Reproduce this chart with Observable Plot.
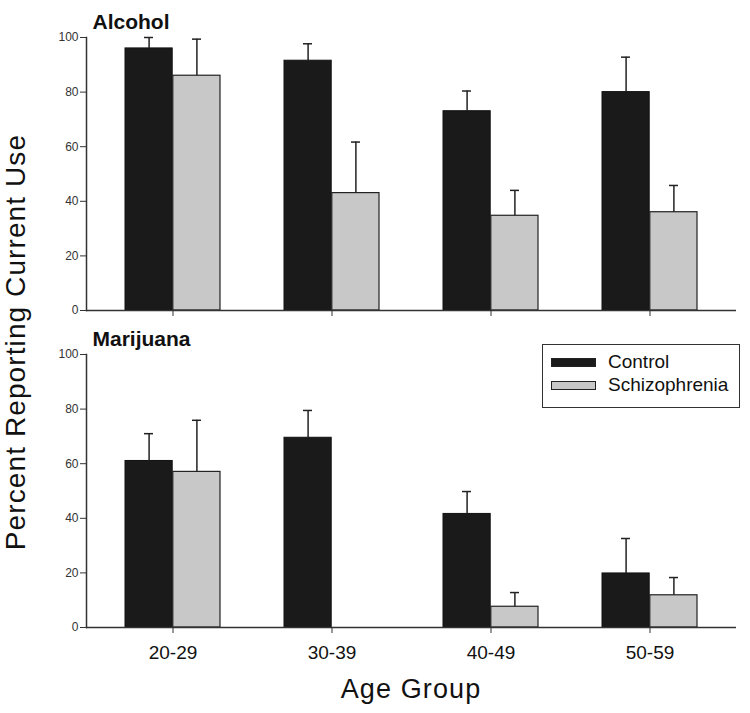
<!DOCTYPE html>
<html>
<head>
<meta charset="utf-8">
<script src="https://cdn.jsdelivr.net/npm/d3@7"></script>
<script src="https://cdn.jsdelivr.net/npm/@observablehq/plot@0.6"></script>
<style>
  html, body { margin: 0; padding: 0; background: #fff; }
  #wrap { position: relative; width: 750px; height: 713px; font-family: "Liberation Sans", Arial, sans-serif; }
  #wrap svg { position: absolute; left: 0; top: 0; }
  #ylabel { position: absolute; left: 16px; top: 342px; transform: translate(-50%, -50%) rotate(-90deg); white-space: nowrap; font-size: 28px; line-height: 28px; letter-spacing: 1.1px; color: #111; }
  #xlabel { position: absolute; left: 411px; top: 676px; transform: translateX(-50%); white-space: nowrap; font-size: 27px; line-height: 27px; letter-spacing: 1.1px; color: #111; }
  #legend { position: absolute; left: 542px; top: 344px; width: 198px; height: 64px; border: 1.5px solid #333; box-sizing: border-box; background: #fff; }
  .lg-row { position: absolute; left: 8px; display: flex; align-items: center; font-size: 19px; color: #111; }
  .lg-sw { width: 45px; height: 9px; border: 1.2px solid #222; box-sizing: border-box; margin-right: 12px; }
</style>
</head>
<body>
<div id="wrap"></div>
<script>
// ---- data ----
const ages = ["20-29", "30-39", "40-49", "50-59"];
const substances = ["Alcohol", "Marijuana"];
const groups = ["Control", "Schizophrenia"];
const groupColors = ["#1a1a1a", "#c8c8c8"];

const alcoholControl = [96, 91.5, 73, 80];
const alcoholControlUpper = [100, 97.7, 80.4, 92.8];
const alcoholSchiz = [86, 43, 34.7, 36];
const alcoholSchizUpper = [99.4, 61.7, 44, 45.8];

const marijuanaControl = [61, 69.5, 41.6, 19.8];
const marijuanaControlUpper = [71, 79.5, 49.8, 32.6];
const marijuanaSchiz = [57, 0, 7.6, 11.8];
const marijuanaSchizUpper = [75.9, null, 12.8, 18.3];

const yTicks = [0, 20, 40, 60, 80, 100];
const xTitle = "Age Group";
const yTitle = "Percent Reporting Current Use";

const series = {
  Alcohol: { Control: [alcoholControl, alcoholControlUpper], Schizophrenia: [alcoholSchiz, alcoholSchizUpper] },
  Marijuana: { Control: [marijuanaControl, marijuanaControlUpper], Schizophrenia: [marijuanaSchiz, marijuanaSchizUpper] }
};

const table = [];
for (const s of substances) for (const g of groups) ages.forEach((a, i) => {
  const [v, u] = series[s][g];
  table.push({ substance: s, group: g, age: a, value: v[i], upper: u[i] });
});
const ctrl = table.filter(d => d.group === "Control");
const schz = table.filter(d => d.group === "Schizophrenia" && d.value > 0);
const ctrlErr = ctrl.filter(d => d.upper != null);
const schzErr = schz.filter(d => d.upper != null);

const half = 47.8;
const font = "Liberation Sans, Arial, sans-serif";

const chart = Plot.plot({
  width: 750,
  height: 713,
  marginLeft: 86,
  marginRight: 14,
  marginTop: 37,
  marginBottom: 86,
  style: { fontFamily: font, background: "#fff", color: "#111" },
  x: { type: "band", domain: ages, paddingInner: 0.401, paddingOuter: 0.237, label: null },
  y: { domain: [0, 100], label: null },
  fy: { domain: substances, paddingInner: 0.139, paddingOuter: 0, axis: null, label: null },
  marks: [
    Plot.barY(ctrl, { x: "age", y: "value", fy: "substance", fill: groupColors[0], stroke: "#111", strokeWidth: 1, insetRight: half }),
    Plot.barY(schz, { x: "age", y: "value", fy: "substance", fill: groupColors[1], stroke: "#222", strokeWidth: 1.2, insetLeft: half }),
    Plot.ruleX(ctrlErr, { x: "age", y1: "value", y2: "upper", fy: "substance", dx: -half / 2, stroke: "#222", strokeWidth: 1.5 }),
    Plot.ruleX(schzErr, { x: "age", y1: "value", y2: "upper", fy: "substance", dx: half / 2, stroke: "#222", strokeWidth: 1.5 }),
    Plot.tickY(ctrlErr, { x: "age", y: "upper", fy: "substance", insetLeft: 19, insetRight: 67, stroke: "#222", strokeWidth: 1.5 }),
    Plot.tickY(schzErr, { x: "age", y: "upper", fy: "substance", insetLeft: 67, insetRight: 19, stroke: "#222", strokeWidth: 1.5 }),
    Plot.ruleY([0], { stroke: "#333", strokeWidth: 1.5 }),
    Plot.frame({ anchor: "left", stroke: "#333", strokeWidth: 1.5 }),
    Plot.axisY({ ticks: yTicks, tickSize: 6, tickPadding: 2, fontSize: 12, label: null, tickFormat: d => d, color: "#333" }),
    Plot.axisX({ facetAnchor: null, tickSize: 6, tickFormat: () => "", label: null, stroke: "#333" }),
    Plot.axisX({ tickSize: 0, tickPadding: 18, fontSize: 19, label: null }),
    Plot.text(substances, { fy: d => d, text: d => d, frameAnchor: "top-left", dx: 6, dy: -9, lineAnchor: "bottom", fontWeight: "bold", fontSize: 21, fill: "#111" })
  ]
});

const wrap = document.getElementById("wrap");
wrap.appendChild(chart);

// axis titles
const yl = document.createElement("div");
yl.id = "ylabel";
yl.textContent = yTitle;
wrap.appendChild(yl);
const xl = document.createElement("div");
xl.id = "xlabel";
xl.textContent = xTitle;
wrap.appendChild(xl);

// legend
const lg = document.createElement("div");
lg.id = "legend";
groups.forEach((g, i) => {
  const row = document.createElement("div");
  row.className = "lg-row";
  row.style.top = (i === 0 ? 6 : 29) + "px";
  const sw = document.createElement("div");
  sw.className = "lg-sw";
  sw.style.background = groupColors[i];
  const tx = document.createElement("span");
  tx.textContent = g;
  row.appendChild(sw);
  row.appendChild(tx);
  lg.appendChild(row);
});
wrap.appendChild(lg);
</script>
</body>
</html>
